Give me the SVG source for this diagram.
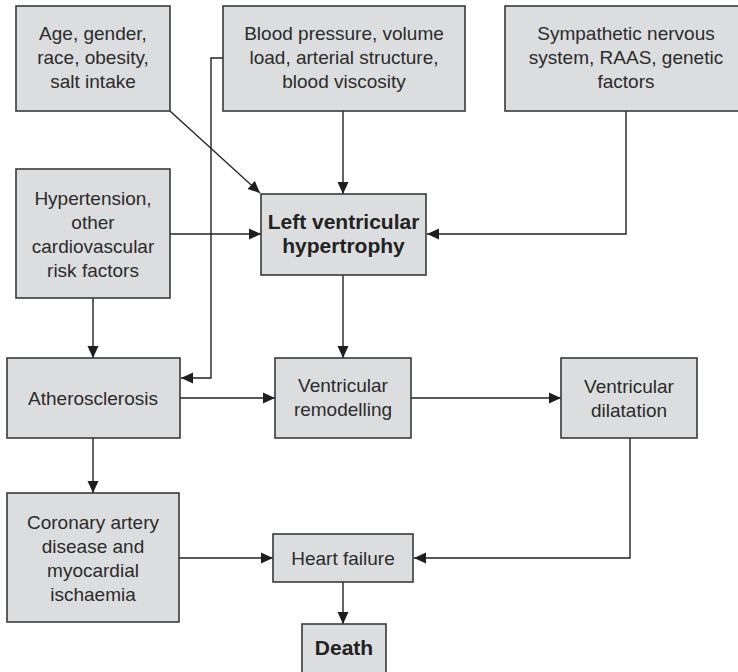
<svg xmlns="http://www.w3.org/2000/svg" width="738" height="672" viewBox="0 0 738 672">
  <style>
    .box { fill: #dcdddf; stroke: #3a3a3a; stroke-width: 1.6; }
    .lbl { font-family: "Liberation Sans", Arial, sans-serif; font-size: 19px; fill: #2b2b2b; text-anchor: middle; }
    .bold { font-weight: bold; font-size: 21px; fill: #222; }
    .wire { fill: none; stroke: #222; stroke-width: 1.4; }
  </style>
  <defs>
    <marker id="arrow" viewBox="0 0 12 12" refX="12" refY="6" markerWidth="12" markerHeight="12" markerUnits="userSpaceOnUse" orient="auto">
      <path d="M0,0.5 L12,6 L0,11.5 Z" fill="#1e1e1e"/>
    </marker>
  </defs>

  <rect width="738" height="672" fill="#ffffff"/>

  <g id="connectors">
    <!-- risk factors into LVH -->
    <line class="wire" x1="170" y1="111" x2="260" y2="193" marker-end="url(#arrow)"/>
    <line class="wire" x1="343" y1="111" x2="343" y2="194" marker-end="url(#arrow)"/>
    <polyline class="wire" points="626,111 626,234 427,234" marker-end="url(#arrow)"/>
    <line class="wire" x1="170" y1="234" x2="261" y2="234" marker-end="url(#arrow)"/>
    <!-- haemodynamic load down to atherosclerosis -->
    <polyline class="wire" points="223,58 211,58 211,378 181,378" marker-end="url(#arrow)"/>
    <!-- hypertension to atherosclerosis -->
    <line class="wire" x1="93" y1="298" x2="93" y2="358" marker-end="url(#arrow)"/>
    <!-- LVH to remodelling -->
    <line class="wire" x1="343" y1="275" x2="343" y2="358" marker-end="url(#arrow)"/>
    <!-- middle row -->
    <line class="wire" x1="180" y1="398" x2="275" y2="398" marker-end="url(#arrow)"/>
    <line class="wire" x1="411" y1="398" x2="561" y2="398" marker-end="url(#arrow)"/>
    <!-- atherosclerosis to CAD -->
    <line class="wire" x1="93" y1="438" x2="93" y2="493" marker-end="url(#arrow)"/>
    <!-- into heart failure -->
    <line class="wire" x1="179" y1="558" x2="273" y2="558" marker-end="url(#arrow)"/>
    <polyline class="wire" points="630,438 630,558 414,558" marker-end="url(#arrow)"/>
    <!-- heart failure to death -->
    <line class="wire" x1="343" y1="582" x2="343" y2="624" marker-end="url(#arrow)"/>
  </g>

  <g id="age">
    <rect class="box" x="16" y="6" width="154" height="105"/>
    <text class="lbl" x="93" y="40">Age, gender,</text>
    <text class="lbl" x="93" y="64">race, obesity,</text>
    <text class="lbl" x="93" y="88">salt intake</text>
  </g>

  <g id="blood-pressure">
    <rect class="box" x="223" y="6" width="242" height="105"/>
    <text class="lbl" x="344" y="40">Blood pressure, volume</text>
    <text class="lbl" x="344" y="64">load, arterial structure,</text>
    <text class="lbl" x="344" y="88">blood viscosity</text>
  </g>

  <g id="sympathetic">
    <rect class="box" x="505" y="6" width="240" height="105"/>
    <text class="lbl" x="626" y="40">Sympathetic nervous</text>
    <text class="lbl" x="626" y="64">system, RAAS, genetic</text>
    <text class="lbl" x="626" y="88">factors</text>
  </g>

  <g id="hypertension">
    <rect class="box" x="16" y="169" width="154" height="129"/>
    <text class="lbl" x="93" y="205">Hypertension,</text>
    <text class="lbl" x="93" y="229">other</text>
    <text class="lbl" x="93" y="253">cardiovascular</text>
    <text class="lbl" x="93" y="277">risk factors</text>
  </g>

  <g id="lvh">
    <rect class="box" x="261" y="194" width="165" height="81"/>
    <text class="lbl bold" x="343.5" y="229">Left ventricular</text>
    <text class="lbl bold" x="343.5" y="253">hypertrophy</text>
  </g>

  <g id="atherosclerosis">
    <rect class="box" x="7" y="358" width="173" height="80"/>
    <text class="lbl" x="93" y="405">Atherosclerosis</text>
  </g>

  <g id="remodelling">
    <rect class="box" x="275" y="358" width="136" height="80"/>
    <text class="lbl" x="343" y="392">Ventricular</text>
    <text class="lbl" x="343" y="416">remodelling</text>
  </g>

  <g id="dilatation">
    <rect class="box" x="561" y="358" width="136" height="80"/>
    <text class="lbl" x="629" y="393">Ventricular</text>
    <text class="lbl" x="629" y="417">dilatation</text>
  </g>

  <g id="cad">
    <rect class="box" x="7" y="493" width="172" height="129"/>
    <text class="lbl" x="93" y="529">Coronary artery</text>
    <text class="lbl" x="93" y="553">disease and</text>
    <text class="lbl" x="93" y="577">myocardial</text>
    <text class="lbl" x="93" y="601">ischaemia</text>
  </g>

  <g id="heart-failure">
    <rect class="box" x="273" y="534" width="140" height="48"/>
    <text class="lbl" x="343" y="565">Heart failure</text>
  </g>

  <g id="death">
    <rect class="box" x="302" y="624" width="84" height="56"/>
    <text class="lbl bold" x="344" y="655">Death</text>
  </g>
</svg>
